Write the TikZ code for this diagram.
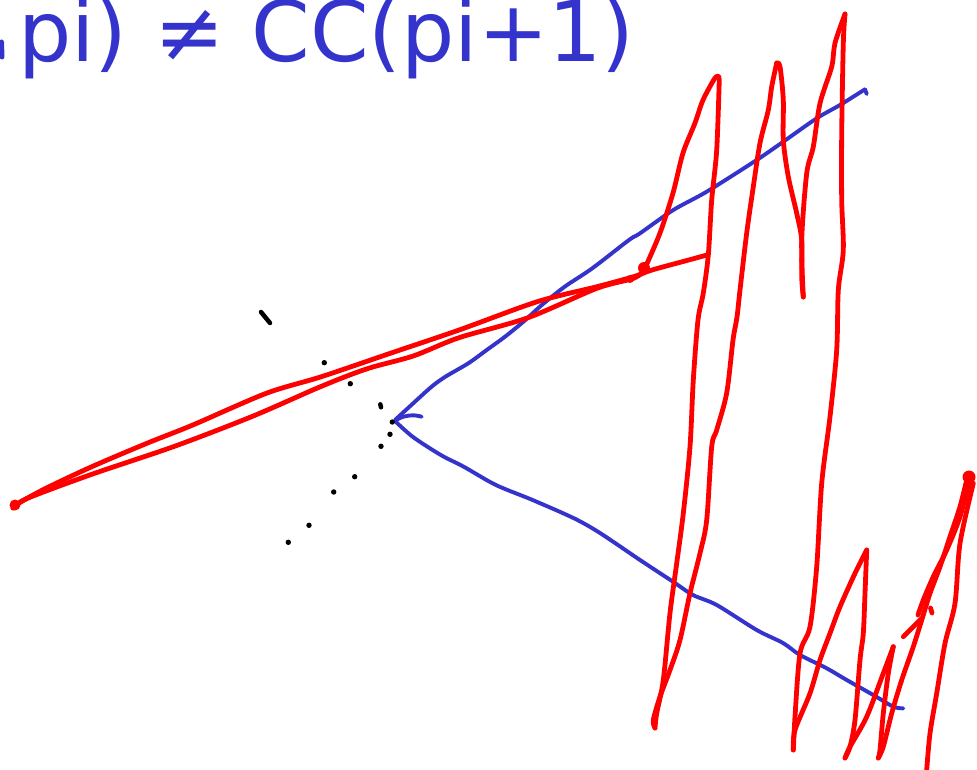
\documentclass[tikz,border=0pt]{standalone}
\usepackage{fontspec}
\newfontfamily\handfont{DejaVu Sans}
\definecolor{inkblue}{RGB}{52,52,204}
\definecolor{inkred}{RGB}{255,0,0}
\begin{document}
\begin{tikzpicture}[x=1pt,y=-1pt, line cap=round, line join=round,
  redink/.style={draw=inkred, line width=4.8pt},
  blueink/.style={draw=inkblue, line width=3.9pt},
  dotmark/.style={fill=black, draw=none},
  blob/.style={fill=inkred, draw=none},
  formula/.style={anchor=base west, inner sep=0pt, text=inkblue,
    font=\handfont\fontsize{84}{90}\selectfont}]
\useasboundingbox (0,0) rectangle (977,770);

% handwritten formula (cut at the top/left edge)
\node[formula] (formula) at (18,62) {pi) ≠ CC(pi+1)};
\draw[blueink, line width=5pt] (1.5,42) -- (2,57);

% blue angle
\draw[blueink] plot[smooth, tension=0.5] coordinates {(395,420) (413.2,403.3) (431.6,386.7) (445.4,376.7) (468.3,363.3) (486.7,350) (505,336.7) (523.4,321.7) (541.8,305) (564.7,286.7) (592.3,268.3) (629,240) (640,233.3) (673.3,210) (706.7,191.7) (756.7,160) (783.3,141.7) (816.7,118.3) (840,105) (865,89.3)};
\draw[blueink] (865,89.3) -- (866.7,94);
\draw[blueink] plot[smooth, tension=0.5] coordinates {(395,421) (413,437) (440.8,455) (463.7,466.7) (495.9,485) (532.6,500) (574,518.3) (600,533) (640,560) (673,581.7) (693,595) (716.7,605) (756.7,630) (783,643) (800,655) (826.7,668.3) (846.7,680) (873.3,695) (893.3,706.7) (903.3,708.3)};
\draw[blueink] plot[smooth, tension=0.6] coordinates {(395,420.7) (403.3,416.7) (413.3,415.3) (421.7,416.7)};

% black dots
\draw[black, line width=4.5pt] (261,312) -- (270,323);
\foreach \p in {(324.3,362.7),(350.3,383.7),(392.3,422),(390,434.3),(381,446.3),(354.7,476.7),(333.7,492),(309,525.3),(288.3,542.3)}
  \fill[dotmark] \p circle (2.7);
\draw[black, line width=4.5pt] (380.3,404.3) -- (381,407.3);

% red scribble: long double stroke
\draw[redink] plot[smooth, tension=0.5] coordinates {(707,255) (688.7,260) (652,270) (633.6,276.7) (596.9,286.7) (537.2,301.7) (459.1,330) (390.3,353.3) (321.4,376.7) (266.3,393.3) (192.8,425) (146.9,443.3) (91.8,466.7) (45.9,488.3) (18.4,503.3) (13,508)};
\draw[redink] plot[smooth, tension=0.5] coordinates {(13,508) (27.5,498.3) (91.8,474.3) (174.5,446.3) (252.5,416.3) (321.4,386.3) (367.3,368.7) (413.2,356) (459,337.7) (528,317.7) (596.9,288.3) (633.6,278.3) (645,270)};
\fill[blob] (15,505) circle (5.5);
\fill[blob] (644,268) circle (6);
\fill[blob] (630,279) circle (4);

% red letters
\draw[redink] plot[smooth, tension=0.5] coordinates {(645,268) (660,233) (673,193) (683,153) (695,123) (703,100) (715,78) (719,77)};
\draw[redink] plot[smooth, tension=0.5] coordinates {(719.3,79) (716.7,150) (711.7,200) (708.3,255) (703.3,293) (698,320) (693.3,380) (690,446.7) (683.3,513.3) (676.7,563.3) (670,613) (663.3,680) (656.7,713.3) (655,728)};
\draw[redink] plot[smooth, tension=0.5] coordinates {(655,728) (653.3,720) (660,696.7) (670,670) (680,640) (690,593.3) (700,553.3) (706.7,520) (711.7,446.7) (716.7,430) (726.7,393) (733,340) (737,317) (740,290) (746.7,233) (753.3,186.7) (760,143) (768.3,110) (771.7,86.7) (776.7,63)};
\draw[redink] plot[smooth, tension=0.5] coordinates {(776.7,63) (780,66.7) (783.3,100) (783.3,140) (788.3,176.7) (796.7,213.3) (801.7,240) (801.7,276.7) (803.3,297)};
\draw[redink] plot[smooth, tension=0.5] coordinates {(803.3,297) (801.7,240) (806.7,173.3) (813.3,146.7) (820,103.3) (831.7,66.7) (835,43) (845,14)};
\draw[redink] plot[smooth, tension=0.5] coordinates {(845,14) (843.3,43.3) (841.7,133.3) (841.7,200) (843.3,250) (838.3,290) (836.7,350) (830,416.7) (821.7,483.3) (816.7,566.7) (810,626.7) (800,653.3) (795,716.7) (793.3,750)};
\draw[redink] plot[smooth, tension=0.5] coordinates {(793.3,750) (795,730) (810,693.3) (820,660) (830,633.3) (840,606.7) (855,573.3) (866.7,550)};
\draw[redink] plot[smooth, tension=0.5] coordinates {(866.7,550) (865,593.3) (863.3,633.3) (860,660) (855,720) (850,746.7) (845,758)};
\draw[redink] plot[smooth, tension=0.5] coordinates {(845,758) (850,746.7) (866.7,716.7) (883.3,673.3) (893.3,646.7)};
\draw[redink] plot[smooth, tension=0.5] coordinates {(893.3,646.7) (888.3,673.3) (883.3,713.3) (880,750) (878.3,758)};
\draw[redink] plot[smooth, tension=0.5] coordinates {(878.3,758) (883.3,746.7) (891.7,713.3) (901.7,680) (913.3,646.7) (921.7,620) (930,593.3) (940,566.7) (950,536.7) (960,506.7) (966.7,480)};
\draw[redink] plot[smooth, tension=0.5] coordinates {(970,478) (960,516.7) (946.7,550) (933.3,576.7) (923.3,600) (918,615)};
\draw[redink] plot[smooth, tension=0.5] coordinates {(973.3,483.3) (960,543.3) (955,603.3) (945,643.3) (936.7,693.3) (930,733.3) (926.7,770)};
\draw[redink] (903.3,636.7) -- (913,627) -- (921,619);
\draw[redink] (930.5,608) -- (932,613);
\fill[blob] (969,477) circle (6.5);
\end{tikzpicture}
\end{document}
